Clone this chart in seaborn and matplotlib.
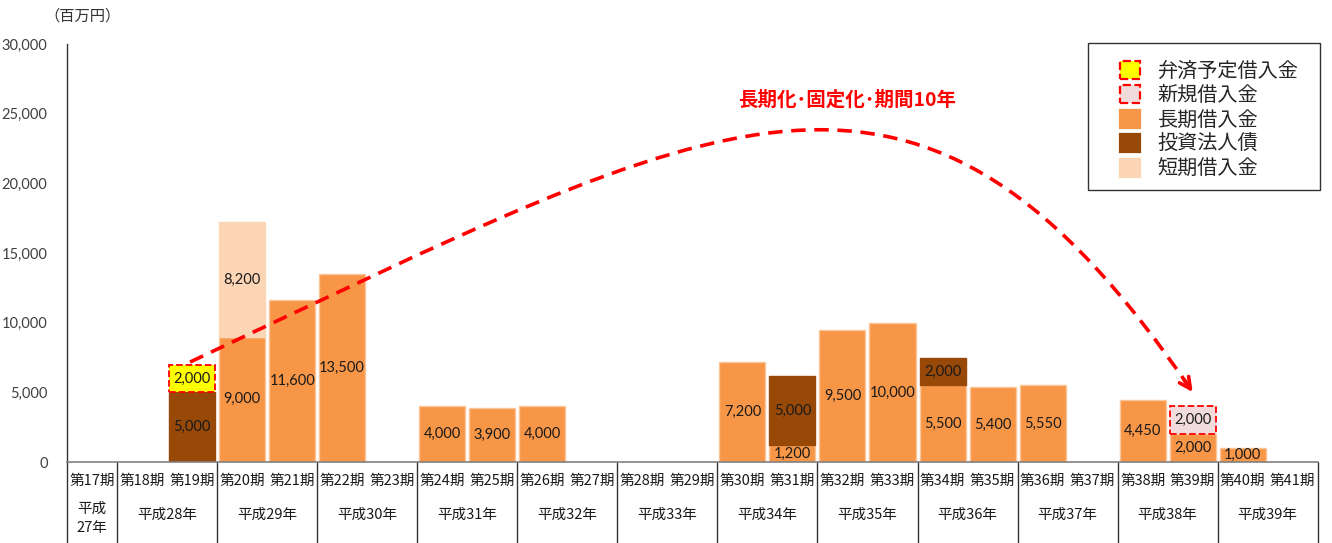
import numpy as np
import pandas as pd
import seaborn as sns
import matplotlib.pyplot as plt
import matplotlib.transforms as mtrans
from matplotlib.patches import Patch, PathPatch, Rectangle
from matplotlib.path import Path

# --- data (百万円) ---
periods = [f'第{n}期' for n in range(17, 42)]
years = ['平成\n27年'] + [f'平成{n}年' for n in range(28, 40)]
long_term = [0, 0, 0, 9000, 11600, 13500, 0, 4000, 3900, 4000, 0, 0, 0,
             7200, 1200, 9500, 10000, 5500, 5400, 5550, 0, 4450, 2000, 1000, 0]
bonds = [0, 0, 5000, 0, 0, 0, 0, 0, 0, 0, 0, 0, 0,
         0, 5000, 0, 0, 2000, 0, 0, 0, 0, 0, 0, 0]
short_term = [0, 0, 0, 8200, 0, 0, 0, 0, 0, 0, 0, 0, 0,
              0, 0, 0, 0, 0, 0, 0, 0, 0, 0, 0, 0]
repay = [0, 0, 2000, 0, 0, 0, 0, 0, 0, 0, 0, 0, 0,
         0, 0, 0, 0, 0, 0, 0, 0, 0, 0, 0, 0]
new_loan = [0, 0, 0, 0, 0, 0, 0, 0, 0, 0, 0, 0, 0,
            0, 0, 0, 0, 0, 0, 0, 0, 0, 2000, 0, 0]

sns.set_theme(style='white')
plt.rcParams['font.family'] = ['Noto Sans CJK JP', 'DejaVu Sans']
num_font = ['Lato', 'DejaVu Sans']

fig = plt.figure(figsize=(13.32, 5.43), dpi=100)
ax = fig.add_axes([0.0503, 0.149, 0.939, 0.770])

layers = [
    ('長期借入金', long_term, '#F79646', '#FBC59A', '-'),
    ('投資法人債', bonds, '#984807', '#984807', '-'),
    ('短期借入金', short_term, '#FCD5B5', '#FCD5B5', '-'),
    ('弁済予定借入金', repay, '#FFFF00', '#FF0000', '--'),
    ('新規借入金', new_loan, '#F2DCDB', '#FF0000', '--'),
]

base = np.zeros(len(periods))
handles = []
for name, vals, fc, ec, ls in layers:
    vals = np.array(vals, dtype=float)
    mask = vals > 0
    df = pd.DataFrame({'period': np.array(periods)[mask], 'value': vals[mask]})
    lw = 1.3 if ls == '--' else 1.0
    sns.barplot(data=df, x='period', y='value', order=periods, color=fc,
                saturation=1, width=0.92, bottom=base[mask], edgecolor=ec,
                linewidth=lw, linestyle=ls, errorbar=None, ax=ax)
    ax.bar_label(ax.containers[-1], labels=[f'{v:,.0f}' for v in vals[mask]],
                 label_type='center', fontsize=10.5, color='#1a1a1a',
                 family=num_font)
    base += vals
    handles.append(Patch(facecolor=fc, edgecolor=ec if ls == '--' else fc,
                         linestyle=ls, linewidth=1.6, label=name))

# legend order as in the reference, with a hand-placed frame
order = [3, 4, 0, 1, 2]
ax.add_patch(Rectangle((0.816, 0.651), 0.1856, 0.3514, transform=ax.transAxes,
                       facecolor='white', edgecolor='#333333', lw=1.0,
                       clip_on=False, zorder=6))
leg = ax.legend([handles[i] for i in order], [handles[i].get_label() for i in order],
                loc='upper left', bbox_to_anchor=(0.8335, 0.984), fontsize=14.5,
                frameon=False, handlelength=1.0, handleheight=1.0,
                labelspacing=0.17, borderpad=0, handletextpad=0.9)
leg.set_zorder(7)

# axes
ax.set_xlim(-0.5, len(periods) - 0.5)
ax.set_ylim(0, 30000)
ax.set_yticks(range(0, 30001, 5000))
ax.set_yticklabels([f'{v:,}' for v in range(0, 30001, 5000)],
                   family=num_font, fontsize=10.5, color='#404040')
ax.tick_params(axis='y', length=0, pad=14)
ax.set_xticks([])
ax.set_xlabel('')
ax.set_ylabel('')
for s in ['top', 'right']:
    ax.spines[s].set_visible(False)
ax.spines['left'].set_color('#333333')
ax.spines['bottom'].set_color('#808080')
ax.spines['left'].set_linewidth(1.0)
ax.spines['bottom'].set_linewidth(1.2)

fig.text(0.062, 0.970, '（百万円）', ha='center', va='center', fontsize=11,
         color='#333333')

# category table under the axis
trans = mtrans.blended_transform_factory(ax.transData, ax.transAxes)
for i, p in enumerate(periods):
    ax.text(i, -0.046, p, transform=trans, ha='center', va='center',
            fontsize=10.5, color='#1a1a1a')
ax.text(0, -0.135, years[0], transform=trans, ha='center', va='center',
        fontsize=10.5, color='#1a1a1a', linespacing=1.45)
for k, y in enumerate(years[1:]):
    ax.text(1.5 + 2 * k, -0.125, y, transform=trans, ha='center', va='center',
            fontsize=10.5, color='#1a1a1a')
seps = [-0.5, 0.5] + [2.5 + 2 * k for k in range(12)]
for xs in seps:
    ax.plot([xs, xs], [0, -0.2], transform=trans, color='#333333', lw=1.0,
            clip_on=False)

# curved dashed arrow
verts = [(1.96, 7180), (12.7, 25300), (16.5, 34000), (22.0, 5020)]
curve = Path(verts, [Path.MOVETO, Path.CURVE4, Path.CURVE4, Path.CURVE4])
ax.add_patch(PathPatch(curve, fill=False, edgecolor='#FF0000', lw=2.6,
                       linestyle=(0, (4, 2.4)), clip_on=False, zorder=5))
ax.annotate('', xy=(22.0, 5020), xytext=(21.83, 5900),
            arrowprops=dict(arrowstyle='->', color='#FF0000', lw=2.6,
                            mutation_scale=20, shrinkA=0, shrinkB=0), zorder=5)
ax.text(15.1, 25950, '長期化･固定化･期間10年', ha='center', va='center',
        fontsize=14, fontweight='bold', color='#FF0000')

fig.savefig('out.png', dpi=100)
